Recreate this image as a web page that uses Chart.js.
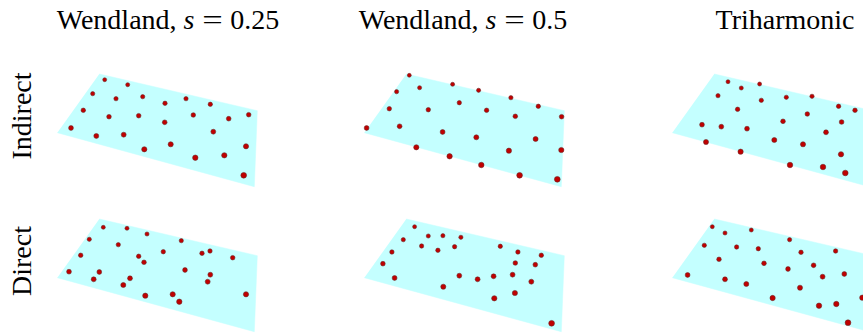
<!DOCTYPE html>
<html>
<head>
<meta charset="utf-8">
<script src="https://cdn.jsdelivr.net/npm/chart.js@4/dist/chart.umd.min.js"></script>
<style>
  html, body { margin: 0; padding: 0; background: #fff; }
  body { width: 863px; height: 334px; position: relative; overflow: hidden;
         font-family: "Liberation Serif", "DejaVu Serif", serif; color: #000; }
  .panel { position: absolute; width: 225px; height: 132px; }
  .title { position: absolute; top: 6px; font-size: 28px; white-space: nowrap;
           transform: translateX(-50%); line-height: 1; }
  .title .eq { display: inline-block; margin: 0 10px; transform: scaleX(1.3); }
  .rowlab { position: absolute; font-size: 28px; white-space: nowrap; line-height: 1;
            transform: translate(-50%, -50%) rotate(-90deg); }
</style>
</head>
<body>
<script>
// Column and row headings
const columnTitles = [
  "Wendland, <i>s</i><span class='eq'>=</span>0.25",
  "Wendland, <i>s</i><span class='eq'>=</span>0.5",
  "Triharmonic"
];
const rowTitles = ["Indirect", "Direct"];

// Corners of the sampled surface patch, in view coordinates
const planeX = [59.3, 217.3, 214.3, 17.3];
const planeY = [14.0, 50.7, 126.7, 72.7];

// Sample node positions (view coordinates) for each kernel / method
const wendland025Indirect = [
  [64.7,19.7],[87.7,24.7],[52.7,33.7],[76.0,38.7],[102.7,36.7],[125.0,43.3],[146.0,38.7],
  [170.3,44.3],[43.3,50.3],[69.0,56.7],[98.7,55.7],[124.7,62.3],[153.3,55.0],[188.7,58.7],
  [208.7,54.7],[31.0,68.0],[56.3,76.0],[83.7,74.7],[173.3,71.7],[104.3,89.3],[130.7,84.3],
  [155.3,97.7],[184.3,95.3],[206.0,86.3],[203.7,115.3]
];
const wendland05Indirect = [
  [62.3,15.3],[72.6,27.7],[105.6,24.3],[131.6,30.3],[163.9,37.7],[191.3,46.3],[49.6,31.7],
  [112.3,42.7],[81.3,49.7],[139.6,50.3],[168.3,56.3],[214.6,56.7],[42.3,48.7],[19.6,68.0],
  [52.6,66.3],[95.6,72.0],[129.3,77.3],[188.6,79.0],[69.3,87.3],[102.6,96.3],[161.9,90.7],
  [214.3,90.0],[134.3,105.0],[172.6,115.3],[210.3,119.3]
];
const triharmonicIndirect = [
  [73.0,21.7],[104.6,24.0],[86.3,28.0],[63.0,35.7],[106.3,40.3],[131.3,37.3],[157.0,36.3],
  [183.6,46.3],[200.0,50.3],[82.6,49.3],[152.3,54.0],[128.0,61.3],[186.6,62.0],[47.0,64.7],
  [66.3,66.7],[92.0,68.7],[171.0,72.3],[119.3,80.0],[148.0,84.3],[51.0,82.0],[85.6,91.7],
  [186.0,94.3],[135.0,105.0],[168.0,107.0],[190.3,113.0]
];
const wendland025Direct = [
  [63.3,22.3],[87.0,23.3],[107.0,29.0],[49.3,34.3],[78.3,39.7],[141.3,35.7],[40.7,50.3],
  [98.7,51.3],[123.3,46.7],[162.0,48.3],[170.0,46.0],[192.7,52.7],[104.0,57.3],[29.0,66.7],
  [59.3,67.0],[145.0,65.0],[170.3,69.7],[53.7,74.3],[90.0,73.3],[167.7,76.7],[83.3,80.0],
  [105.3,90.7],[132.7,89.3],[139.3,96.7],[206.0,89.3]
];
const wendland05Direct = [
  [67.6,21.7],[81.3,31.0],[95.9,30.7],[113.9,32.3],[56.3,34.7],[74.6,41.0],[90.9,45.3],
  [107.6,41.7],[153.3,41.3],[170.9,47.0],[194.3,50.3],[44.9,47.0],[35.9,58.7],[168.3,58.0],
  [188.3,59.7],[47.6,73.0],[112.3,70.7],[130.6,74.3],[146.6,71.3],[165.6,69.7],[184.3,76.7],
  [96.3,81.7],[167.9,88.0],[147.3,93.3],[204.6,118.3]
];
const triharmonicDirect = [
  [57.3,21.7],[70.0,28.0],[96.3,25.0],[134.6,34.7],[49.3,40.3],[81.6,42.0],[103.3,43.7],
  [146.0,47.3],[180.6,46.0],[64.0,54.3],[109.0,58.3],[133.0,64.0],[158.6,60.3],[167.6,71.7],
  [189.3,69.0],[32.6,70.0],[70.0,74.3],[91.3,79.0],[145.0,82.7],[117.6,93.0],[164.0,100.7],
  [181.3,99.0],[193.0,117.7],[207.3,92.7]
];

const panelNodes = [
  [wendland025Indirect, wendland05Indirect, triharmonicIndirect],
  [wendland025Direct, wendland05Direct, triharmonicDirect]
];

const VIEW_W = 225, VIEW_H = 132;
const COL_STEP = 307.4, ROW_STEP = 145, LEFT0 = 40, TOP0 = 60;
const titleCenters = [168, 463, 785];

// headings
columnTitles.forEach((t, i) => {
  const d = document.createElement('div');
  d.className = 'title';
  d.innerHTML = t;
  d.style.left = titleCenters[i] + 'px';
  document.body.appendChild(d);
});
rowTitles.forEach((t, r) => {
  const d = document.createElement('div');
  d.className = 'rowlab';
  d.textContent = t;
  d.style.left = '22px';
  d.style.top = (116 + r * ROW_STEP) + 'px';
  document.body.appendChild(d);
});

const planeData = planeX.map((x, i) => ({ x, y: planeY[i] }));

panelNodes.forEach((row, r) => {
  row.forEach((nodes, c) => {
    const box = document.createElement('div');
    box.className = 'panel';
    box.style.left = (LEFT0 + c * COL_STEP) + 'px';
    box.style.top = (TOP0 + r * ROW_STEP) + 'px';
    const cv = document.createElement('canvas');
    box.appendChild(cv);
    document.body.appendChild(box);

    new Chart(cv, {
      type: 'scatter',
      data: {
        datasets: [
          {
            type: 'line',
            data: planeData,
            showLine: true,
            fill: 'shape',
            backgroundColor: '#c4ffff',
            borderColor: '#c4ffff',
            borderWidth: 0.5,
            pointRadius: 0,
            tension: 0,
            clip: false,
            order: 2
          },
          {
            data: nodes.map(([x, y]) => ({ x, y })),
            // nodes nearer the viewer (lower on screen) appear slightly larger
            pointRadius: (ctx) => ctx.raw ? 1.8 + ctx.raw.y / 110 : 2,
            backgroundColor: '#c00000',
            borderColor: 'rgba(100,40,40,0.6)',
            borderWidth: 0.9,
            clip: false,
            order: 1
          }
        ]
      },
      options: {
        responsive: true,
        maintainAspectRatio: false,
        animation: false,
        events: [],
        layout: { padding: 0, autoPadding: false },
        plugins: { legend: { display: false }, tooltip: { enabled: false } },
        scales: {
          x: { type: 'linear', min: 0, max: VIEW_W, display: false },
          y: { type: 'linear', min: 0, max: VIEW_H, reverse: true, display: false }
        }
      }
    });
  });
});
</script>
</body>
</html>
